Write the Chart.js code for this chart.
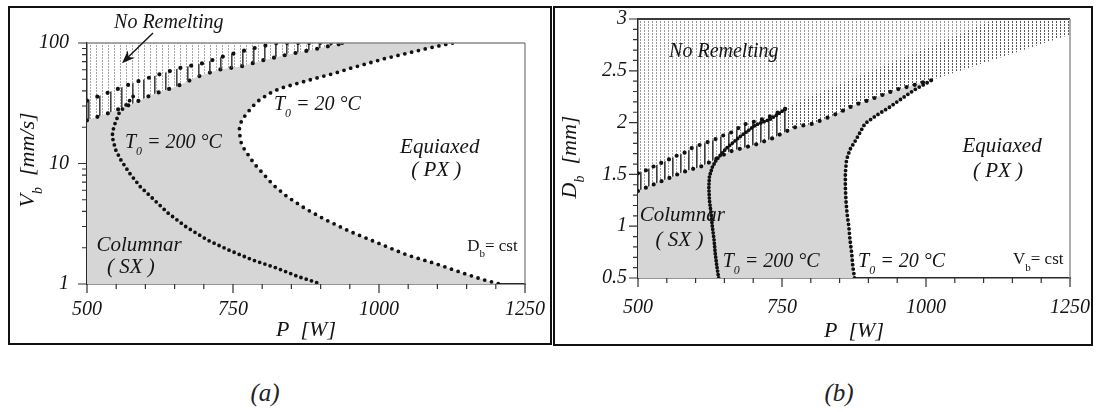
<!DOCTYPE html>
<html><head><meta charset="utf-8">
<script src="https://cdn.jsdelivr.net/npm/chart.js@4.4.0/dist/chart.umd.min.js"></script>
<style>
html,body{margin:0;padding:0;background:#fff;width:1098px;height:412px;overflow:hidden}
.box{position:absolute;border:2px solid #111;box-sizing:border-box}
canvas{position:absolute;left:0;top:0}
.cap{position:absolute;font:italic 25px "Liberation Serif","DejaVu Serif","Noto Serif",Tinos,Times,serif;color:#222;transform:translate(-50%,-50%);white-space:nowrap}
.pre{position:absolute;left:-999px;top:0;font-family:"Liberation Serif";}
</style></head><body>
<span class="pre" style="font-style:italic">Aa</span><span class="pre">Aa</span>
<div class="box" style="left:8px;top:6px;width:544px;height:339px"></div>
<div class="box" style="left:553px;top:6px;width:540px;height:340px"></div>
<div style="position:absolute;left:0;top:0;width:552px;height:350px"><canvas id="ca" width="552" height="350"></canvas></div>
<div style="position:absolute;left:552px;top:0;width:546px;height:350px"><canvas id="cb" width="546" height="350"></canvas></div>
<div class="cap" style="left:265px;top:393px">(a)</div>
<div class="cap" style="left:839px;top:393px">(b)</div>
<script>
// ---------------- Panel (a): V_b vs P (log y) ----------------
const A_X_RANGE = [500, 1250];
const A_Y_RANGE = [1, 100];
const A_X_TICKS = [500, 750, 1000, 1250];
const A_Y_TICKS = [1, 10, 100];
// T0 = 200 °C transition curve
const A_T200_P = [579, 555, 546, 543, 549, 558, 573, 591, 615, 639, 669, 706, 742, 784, 826, 862, 901];
const A_T200_V = [36, 26.2, 20.3, 16.8, 13, 10.7, 8.3, 6.44, 4.99, 3.87, 3.0, 2.32, 1.92, 1.58, 1.35, 1.15, 1.0];
// T0 = 20 °C transition curve
const A_T20_P = [1126, 1084, 1048, 1012, 981, 951, 924, 891, 861, 831, 813, 795, 783, 774, 765, 761, 762, 765, 774, 786, 801, 819, 843, 873, 909, 951, 999, 1048, 1096, 1144, 1180, 1207];
const A_T20_V = [100, 90.4, 82.1, 74.7, 67.8, 61.7, 56.1, 50.9, 46.3, 42.1, 38.3, 33.6, 29.6, 26.1, 23, 19.6, 16.7, 14.2, 12.2, 10.0, 8.3, 6.63, 5.3, 4.25, 3.4, 2.72, 2.18, 1.74, 1.48, 1.23, 1.08, 1.0];
// No-remelting limits (upper and lower rows)
const A_NRU_P = [500, 542, 579, 619, 659, 699, 739, 782, 825, 943];
const A_NRU_V = [33.3, 39.7, 46.6, 54, 62, 68, 79, 89.7, 100, 100];
const A_NRL_P = [500, 537, 574, 611, 654, 691, 725, 765, 805, 848, 887, 913, 943];
const A_NRL_V = [22.8, 26.2, 30.8, 37.2, 43.7, 52.9, 60, 64.1, 72.7, 81, 88, 93.9, 100];

// ---------------- Panel (b): D_b vs P ----------------
const B_X_RANGE = [500, 1250];
const B_Y_RANGE = [0.5, 3];
const B_X_TICKS = [500, 750, 1000, 1250];
const B_Y_TICKS = [0.5, 1, 1.5, 2, 2.5, 3];
const B_T200_P = [640, 637, 634, 632, 629, 627, 624, 623, 624, 629, 636, 653, 676, 705, 729, 745, 758];
const B_T200_D = [0.5, 0.61, 0.74, 0.87, 1.0, 1.12, 1.25, 1.38, 1.48, 1.57, 1.64, 1.75, 1.86, 1.98, 2.03, 2.09, 2.14];
const B_T20_P = [876, 873, 871, 868, 866, 863, 861, 860, 860, 862, 868, 878, 886, 894, 914, 937, 960, 981, 1007];
const B_T20_D = [0.5, 0.61, 0.74, 0.87, 1.0, 1.12, 1.25, 1.38, 1.51, 1.64, 1.74, 1.83, 1.91, 1.99, 2.07, 2.15, 2.24, 2.32, 2.40];
const B_NRU_P = [500, 514, 532, 552, 567, 581, 595, 625, 639, 653, 665, 682, 697, 714, 729, 740, 758];
const B_NRU_D = [1.51, 1.54, 1.59, 1.64, 1.68, 1.71, 1.76, 1.82, 1.85, 1.89, 1.91, 1.98, 2.0, 2.03, 2.06, 2.09, 2.14];
// continuation of the upper limit (edge of the darker hatch, no dots)
const B_NRU_EXT_P = [758, 785, 1058, 1120, 1250];
const B_NRU_EXT_D = [2.14, 2.22, 2.85, 3.0, 3.0];
const B_NRL_P = [500, 543, 561, 572, 593, 607, 625, 659, 685, 705, 734, 755, 775, 804, 839, 876, 902, 926, 949, 972, 989, 1010];
const B_NRL_D = [1.34, 1.44, 1.48, 1.51, 1.55, 1.57, 1.62, 1.72, 1.76, 1.79, 1.85, 1.91, 1.96, 1.99, 2.07, 2.17, 2.22, 2.27, 2.32, 2.35, 2.38, 2.41];
const B_NR_END = [1250, 2.85];

const FONT = '"Liberation Serif", "DejaVu Serif", "Noto Serif", Tinos, Times, serif';
const INK = '#141414';
const GRAY = '#d6d6d6';

function pts(xs, ys) { return xs.map((x, i) => ({x: x, y: ys[i]})); }

function hatch(w, h, color, lw, lh) {
  const c = document.createElement('canvas');
  c.width = w; c.height = h;
  const g = c.getContext('2d');
  g.fillStyle = color;
  g.fillRect(0, 0, lw, lh);
  return g.createPattern(c, 'repeat');
}

function drawRich(ctx, parts, x, y, align, size, italic) {
  const st = italic ? 'italic ' : '';
  const fMain = st + size + 'px ' + FONT;
  const fSub = st + Math.round(size * 0.62) + 'px ' + FONT;
  let w = 0; const ws = [];
  parts.forEach(p => { ctx.font = p[1] ? fSub : fMain; const m = ctx.measureText(p[0]).width; ws.push(m); w += m; });
  let cx = align === 'center' ? x - w / 2 : x;
  ctx.textBaseline = 'middle'; ctx.textAlign = 'left';
  parts.forEach((p, i) => {
    ctx.font = p[1] ? fSub : fMain;
    ctx.fillText(p[0], cx, p[1] ? y + size * 0.45 : y);
    cx += ws[i];
  });
}

function makeDecor(cfg) {
  return {
    id: 'decor',
    afterDatasetsDraw(chart) {
      const {ctx, chartArea: a, scales} = chart;
      const xs = scales.x, ys = scales.y;
      ctx.save();
      ctx.strokeStyle = cfg.frameTop; ctx.lineWidth = cfg.frameTopW;
      ctx.beginPath(); ctx.moveTo(a.left, a.top); ctx.lineTo(a.right, a.top); ctx.stroke();
      ctx.strokeStyle = '#8a8a8a'; ctx.lineWidth = 1.4;
      ctx.beginPath(); ctx.moveTo(a.right, a.top); ctx.lineTo(a.right, a.bottom); ctx.stroke();
      ctx.strokeStyle = '#333'; ctx.lineWidth = 1.2; ctx.beginPath();
      cfg.xMaj.forEach(v => { const p = xs.getPixelForValue(v); ctx.moveTo(p, a.bottom); ctx.lineTo(p, a.bottom + 9); });
      cfg.xMin.forEach(v => { const p = xs.getPixelForValue(v); ctx.moveTo(p, a.bottom); ctx.lineTo(p, a.bottom + 5); });
      cfg.yMaj.forEach(v => { const p = ys.getPixelForValue(v); ctx.moveTo(a.left, p); ctx.lineTo(a.left - 9, p); });
      cfg.yMin.forEach(v => { const p = ys.getPixelForValue(v); ctx.moveTo(a.left, p); ctx.lineTo(a.left - 5, p); });
      ctx.stroke();
      ctx.fillStyle = INK;
      cfg.labels.forEach(l => {
        drawRich(ctx, l.parts, xs.getPixelForValue(l.x), ys.getPixelForValue(l.y), l.align, l.size, l.italic !== false);
      });
      (cfg.arrows || []).forEach(ar => {
        const x1 = xs.getPixelForValue(ar.from[0]), y1 = ys.getPixelForValue(ar.from[1]);
        const x2 = xs.getPixelForValue(ar.to[0]), y2 = ys.getPixelForValue(ar.to[1]);
        const ang = Math.atan2(y2 - y1, x2 - x1);
        const c = Math.cos(ang), s = Math.sin(ang);
        ctx.strokeStyle = INK; ctx.lineWidth = 1.4;
        ctx.beginPath(); ctx.moveTo(x1, y1); ctx.lineTo(x2 - 8 * c, y2 - 8 * s); ctx.stroke();
        ctx.beginPath();
        ctx.moveTo(x2, y2);
        ctx.lineTo(x2 - 13 * c + 5 * s, y2 - 13 * s - 5 * c);
        ctx.lineTo(x2 - 9 * c, y2 - 9 * s);
        ctx.lineTo(x2 - 13 * c - 5 * s, y2 - 13 * s + 5 * c);
        ctx.closePath(); ctx.fillStyle = INK; ctx.fill();
      });
      ctx.fillStyle = INK;
      drawRich(ctx, cfg.xTitle, (a.left + a.right) / 2, cfg.xTitleY, 'center', 22, true);
      ctx.save();
      ctx.translate(cfg.yTitleX, cfg.yTitleY); ctx.rotate(-Math.PI / 2);
      drawRich(ctx, cfg.yTitle, 0, 0, 'center', 22, true);
      ctx.restore();
      ctx.restore();
    }
  };
}

// label offset is given through tickLength (tick marks themselves are drawn by the decor plugin)
function axisOpts(type, range, ticks, gap, fit) {
  return {
    type: type, min: range[0], max: range[1],
    afterBuildTicks: s => { s.ticks = ticks.map(v => ({value: v})); },
    afterFit: fit,
    grid: {display: false, drawTicks: true, tickLength: gap},
    border: {display: true, color: '#2a2a2a', width: 1.5},
    ticks: {
      autoSkip: false, maxRotation: 0, padding: 0, color: INK,
      font: {family: FONT, style: 'italic', size: 20},
      callback: v => String(v)
    }
  };
}

function lineDs(data, opts) {
  return Object.assign({
    data: data, pointRadius: 0, tension: 0, fill: false,
    borderColor: '#111', borderCapStyle: 'round', borderJoinStyle: 'round'
  }, opts);
}

const A_X_MINOR = [], B_X_MINOR = [];
for (let v = A_X_RANGE[0]; v <= A_X_RANGE[1]; v += 50) if (!A_X_TICKS.includes(v)) { A_X_MINOR.push(v); B_X_MINOR.push(v); }
const A_Y_MINOR = [];
[1, 10].forEach(d => { for (let k = 2; k <= 9; k++) A_Y_MINOR.push(k * d); });
const B_Y_MINOR = [];
for (let i = 5; i <= 30; i++) if (i % 5 !== 0) B_Y_MINOR.push(i / 10);

function build() {
  const grayA = [{x: A_X_RANGE[0], y: A_Y_RANGE[0]}].concat(pts(A_NRL_P, A_NRL_V), pts(A_T20_P, A_T20_V));
  new Chart(document.getElementById('ca'), {
    type: 'line',
    data: {datasets: [
      lineDs(grayA, {label: 'Columnar (SX)', fill: 'shape', backgroundColor: GRAY, borderWidth: 0, order: 10}),
      lineDs(pts(A_NRL_P, A_NRL_V), {label: 'No remelting (T0=20)', fill: 'end', backgroundColor: hatch(6, 3, '#a8a8a8', 1, 2), borderWidth: 4.2, borderDash: [0, 11], order: 6}),
      lineDs(pts(A_NRU_P, A_NRU_V), {label: 'No remelting (T0=200)', fill: 1, backgroundColor: hatch(11, 2, '#444', 1.6, 2), borderWidth: 4.2, borderDash: [0, 11], order: 5}),
      lineDs(pts(A_T200_P, A_T200_V), {label: 'T0 = 200 °C', borderWidth: 3.8, borderDash: [0, 5.5], order: 2}),
      lineDs(pts(A_T20_P, A_T20_V), {label: 'T0 = 20 °C', borderWidth: 3.8, borderDash: [0, 7], order: 1})
    ]},
    options: {
      responsive: false, animation: false, events: [],
      layout: {padding: {top: 43, right: 27, left: 0, bottom: 0}},
      plugins: {legend: {display: false}, tooltip: {enabled: false}},
      scales: {
        x: axisOpts('linear', A_X_RANGE, A_X_TICKS, 14, s => { s.height = 66; }),
        y: axisOpts('logarithmic', A_Y_RANGE, A_Y_TICKS, 18, s => { s.width = 87; })
      }
    },
    plugins: [makeDecor({
      frameTop: '#8a8a8a', frameTopW: 1.4,
      xMaj: A_X_TICKS, xMin: A_X_MINOR, yMaj: A_Y_TICKS, yMin: A_Y_MINOR,
      xTitle: [['P  [W]']], xTitleY: 330,
      yTitle: [['V'], ['b', 1], ['  [mm/s]']], yTitleX: 28, yTitleY: 160,
      arrows: [{from: [613, 121], to: [560, 68]}],
      labels: [
        {parts: [['No Remelting']], x: 640, y: 147, align: 'center', size: 20},
        {parts: [['T'], ['0', 1], [' = 20 °C']], x: 820, y: 30.6, align: 'left', size: 20},
        {parts: [['T'], ['0', 1], [' = 200 °C']], x: 565, y: 14.8, align: 'left', size: 20},
        {parts: [['Equiaxed']], x: 1104, y: 13.7, align: 'center', size: 21},
        {parts: [['( PX )']], x: 1098, y: 8.83, align: 'center', size: 21},
        {parts: [['Columnar']], x: 589, y: 2.07, align: 'center', size: 21},
        {parts: [['( SX )']], x: 575, y: 1.38, align: 'center', size: 21},
        {parts: [['D'], ['b', 1], ['= cst']], x: 1151, y: 2.03, align: 'left', size: 17, italic: false}
      ]
    })]
  });

  const grayB = [{x: B_X_RANGE[0], y: B_Y_RANGE[0]}].concat(pts(B_NRL_P, B_NRL_D), pts(B_T20_P, B_T20_D).reverse());
  const edgeB = pts(B_NRL_P, B_NRL_D).concat([{x: B_NR_END[0], y: B_NR_END[1]}]);
  new Chart(document.getElementById('cb'), {
    type: 'line',
    data: {datasets: [
      lineDs(grayB, {label: 'Columnar (SX)', fill: 'shape', backgroundColor: GRAY, borderWidth: 0, order: 10}),
      lineDs(edgeB, {label: 'No remelting edge', fill: 'end', backgroundColor: hatch(4, 3, '#9c9c9c', 1, 2), borderWidth: 0, order: 9}),
      lineDs(pts(B_NRU_EXT_P, B_NRU_EXT_D), {label: 'Upper limit continuation', fill: 1, backgroundColor: hatch(4, 3, '#5a5a5a', 1, 2), borderWidth: 0, order: 8}),
      lineDs(pts(B_NRL_P, B_NRL_D), {label: 'No remelting (T0=20)', borderWidth: 4.2, borderDash: [0, 8.5], order: 6}),
      lineDs(pts(B_NRU_P, B_NRU_D), {label: 'No remelting (T0=200)', fill: 3, backgroundColor: hatch(8, 2, '#3a3a3a', 1.6, 2), borderWidth: 4.2, borderDash: [0, 8.5], order: 5}),
      lineDs(pts(B_T200_P, B_T200_D), {label: 'T0 = 200 °C', borderWidth: 3.8, borderDash: [0, 3.5], order: 2}),
      lineDs(pts(B_T20_P, B_T20_D), {label: 'T0 = 20 °C', borderWidth: 3.8, borderDash: [0, 4.5], order: 1})
    ]},
    options: {
      responsive: false, animation: false, events: [],
      layout: {padding: {top: 19, right: 28, left: 0, bottom: 0}},
      plugins: {legend: {display: false}, tooltip: {enabled: false}},
      scales: {
        x: axisOpts('linear', B_X_RANGE, B_X_TICKS, 18, s => { s.height = 72; }),
        y: axisOpts('linear', B_Y_RANGE, B_Y_TICKS, 11, s => { s.width = 86; })
      }
    },
    plugins: [makeDecor({
      frameTop: '#3a3a3a', frameTopW: 2,
      xMaj: B_X_TICKS, xMin: B_X_MINOR, yMaj: B_Y_TICKS, yMin: B_Y_MINOR,
      xTitle: [['P  [W]']], xTitleY: 331,
      yTitle: [['D'], ['b', 1], ['  [mm]']], yTitleX: 18, yTitleY: 157,
      labels: [
        {parts: [['No Remelting']], x: 649, y: 2.68, align: 'center', size: 20},
        {parts: [['Equiaxed']], x: 1132, y: 1.77, align: 'center', size: 21},
        {parts: [['( PX )']], x: 1125, y: 1.53, align: 'center', size: 21},
        {parts: [['Columnar']], x: 577, y: 1.10, align: 'center', size: 21},
        {parts: [['( SX )']], x: 572, y: 0.86, align: 'center', size: 21},
        {parts: [['T'], ['0', 1], [' = 200 °C']], x: 647, y: 0.654, align: 'left', size: 20},
        {parts: [['T'], ['0', 1], [' = 20 °C']], x: 882, y: 0.654, align: 'left', size: 20},
        {parts: [['V'], ['b', 1], ['= cst']], x: 1151, y: 0.674, align: 'left', size: 17, italic: false}
      ]
    })]
  });
}

let built = false;
function go() { if (!built) { built = true; build(); } }
try {
  Promise.all([
    document.fonts.load('italic 20px "Liberation Serif"'),
    document.fonts.load('20px "Liberation Serif"')
  ]).then(go, go);
  setTimeout(go, 600);
} catch (e) { go(); }
</script>
</body></html>
